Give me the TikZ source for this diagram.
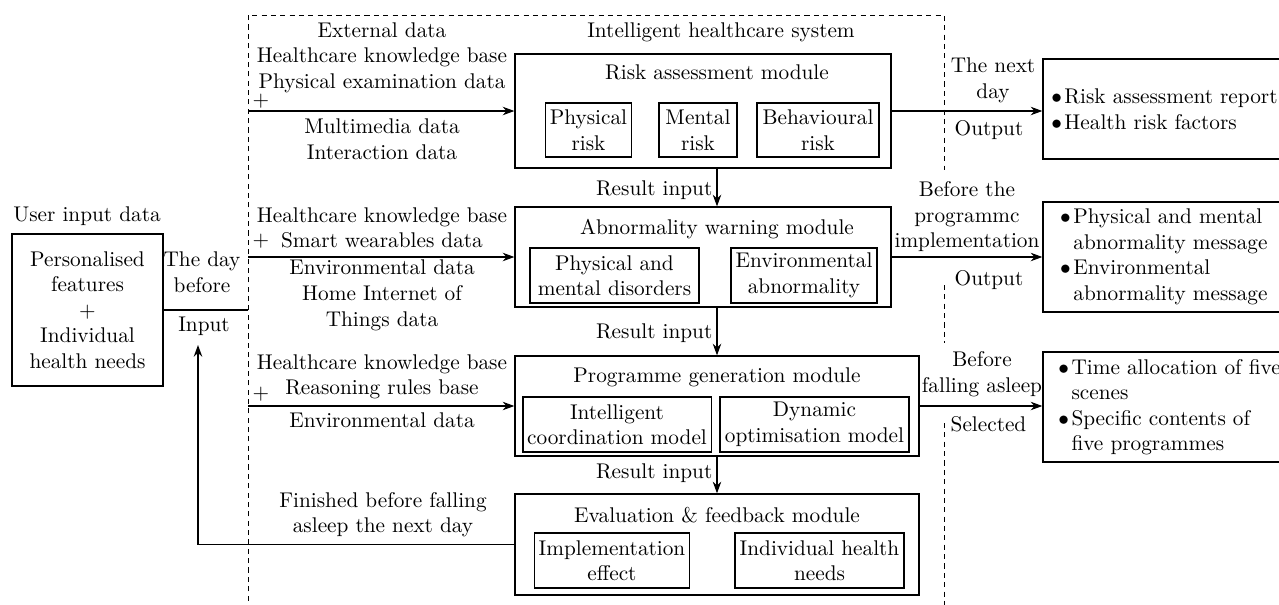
\documentclass[tikz,border=0pt]{standalone}
\usetikzlibrary{arrows.meta}
\newcommand{\outitem}{$\bullet$\hspace{1.2pt}}
\newcommand{\outcont}{\hphantom{$\bullet$}\hspace{1.2pt}}

\begin{document}
\begin{tikzpicture}[x=0.47pt, y=-0.47pt, line width=0.6pt,
	modbox/.style={draw, align=center, inner sep=2pt, minimum height=25.9pt},
	bigbox/.style={draw, minimum width=189.9pt, minimum height=47pt},
	outbox/.style={draw, align=left, minimum height=47pt},
	lbl/.style={align=center, inner sep=0.5pt},
	plus/.style={inner sep=0pt},
	frame/.style={line width=0.45pt, dash pattern=on 2.4pt off 2pt},
	arr/.style={-{Stealth[length=5.5pt, width=4pt]}}]
	\useasboundingbox (0,0) rectangle (1279,605);

	\node[modbox, minimum width=71pt, minimum height=71.4pt] (user) at (87.5,310) {Personalised\\features\\$+$\\Individual\\health needs};
	\node[lbl] (userlbl) at (87,216) {User input data};
	\node[lbl] (daybefore) at (202,272) {The day\\before};
	\node[lbl] (input) at (204,326) {Input};
	\node[lbl] (system) at (721,32) {Intelligent healthcare system};

	\node[bigbox, minimum width=176.7pt, minimum height=53.6pt] (risk) at (703,111) {};
	\node[lbl] (risktitle) at (717,72) {Risk assessment module};
	\node[modbox, minimum width=40pt, minimum height=25.4pt] (physrisk) at (588.5,130) {Physical\\risk};
	\node[modbox, minimum width=36.7pt, minimum height=25.4pt] (mentrisk) at (698,130) {Mental\\risk};
	\node[modbox, minimum width=57.3pt, minimum height=25.4pt] (behrisk) at (818,130) {Behavioural\\risk};

	\node[bigbox, minimum width=176.7pt] (abn) at (703,257) {};
	\node[lbl] (abntitle) at (717,229) {Abnormality warning module};
	\node[modbox, minimum width=79.4pt] (pmdis) at (614.5,275.5) {Physical and\\mental disorders};
	\node[modbox, minimum width=68.6pt] (envabn) at (804,275.5) {Environmental\\abnormality};

	\node[bigbox] (prog) at (717,406) {};
	\node[lbl] (progtitle) at (717,377) {Programme generation module};
	\node[modbox, minimum width=88.4pt] (coord) at (617,424.5) {Intelligent\\coordination model};
	\node[modbox, minimum width=88.8pt] (optim) at (814.5,424.5) {Dynamic\\optimisation model};

	\node[bigbox, minimum height=47.5pt] (eval) at (717,544.5) {};
	\node[lbl] (evaltitle) at (717,515) {Evaluation \& feedback module};
	\node[modbox, minimum width=70.5pt] (effect) at (612,560.5) {Implementation\\effect};
	\node[modbox, minimum width=79.4pt] (needs) at (819.5,560.5) {Individual health\\needs};

	\node[outbox, inner xsep=3.9pt, text width=127.1pt] (out1) at (1186.5,109) {\outitem Risk assessment report\\\outitem Health risk factors};
	\node[outbox, inner xsep=8.1pt, text width=118.7pt, minimum height=48pt] (out2) at (1186.5,257) {\outitem Physical and mental\\\outcont abnormality message\\\outitem Environmental\\\outcont abnormality message};
	\node[outbox, inner xsep=7.2pt, text width=120.5pt, minimum height=49.8pt] (out3) at (1186.5,407) {\outitem Time allocation of five\\\outcont scenes\\\outitem Specific contents of\\\outcont five programmes};

	\draw[frame] (248,610) -- (248,15) -- (944,15) -- (944,170);
	\draw[frame] (944,285) -- (944,343);
	\draw[frame] (944,423) -- (944,610);

	\node[lbl] (ext1) at (382,57.7) {External data\\Healthcare knowledge base\\Physical examination data};
	\node[plus] (plus1) at (261,101) {$+$};
	\node[lbl] (ext1b) at (382,139) {Multimedia data\\Interaction data};
	\node[lbl] (ext2) at (382,228) {Healthcare knowledge base\\Smart wearables data};
	\node[plus] (plus2) at (261,241) {$+$};
	\node[lbl] (ext2b) at (382,295.3) {Environmental data\\Home Internet of\\Things data};
	\node[lbl] (ext3) at (382,377) {Healthcare knowledge base\\Reasoning rules base};
	\node[plus] (plus3) at (261,394) {$+$};
	\node[lbl] (ext3b) at (382,420) {Environmental data};
	\node[lbl] (finished) at (383,514.5) {Finished before falling\\asleep the next day};

	\node[lbl, anchor=east] (res1) at (714,190) {Result input};
	\node[lbl, anchor=east] (res2) at (714,333) {Result input};
	\node[lbl, anchor=east] (res3) at (714,473) {Result input};

	\node[lbl] (nextday) at (993,80.5) {The next\\day};
	\node[lbl] (output1) at (989,130) {Output};
	\node[lbl] (beforeprog) at (967,216.7) {Before the\\programmc\\implementation};
	\node[lbl] (output2) at (989,280) {Output};
	\node[lbl] (beforesleep) at (982,374) {Before\\falling asleep};
	\node[lbl] (selected) at (988.5,424) {Selected};

	\coordinate (in1) at (248,111);
	\coordinate (in2) at (248,257);
	\coordinate (in3) at (248,406);
	\coordinate (fbend) at (198,345);

	\draw (user.east) -- (user.east -| in2);
	\draw[arr] (in1) -- (risk.west);
	\draw[arr] (in2) -- (abn.west);
	\draw[arr] (in3) -- (prog.west);
	\draw[arr] (risk.south -| prog.north) -- (abn.north -| prog.north);
	\draw[arr] (abn.south -| prog.north) -- (prog.north);
	\draw[arr] (prog.south) -- (eval.north);
	\draw[arr] (risk.east) -- (risk.east -| out1.west);
	\draw[arr] (abn.east) -- (abn.east -| out2.west);
	\draw[arr] (prog.east) -- (prog.east -| out3.west);
	\draw[arr] (eval.west) -| (fbend);
\end{tikzpicture}
\end{document}
